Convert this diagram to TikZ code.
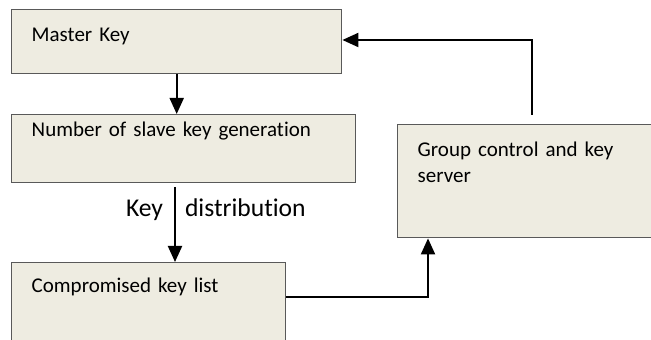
\documentclass[tikz,border=0pt]{standalone}
\usepackage{fontspec}
\setmainfont[Ligatures=NoCommon]{Carlito}
\usetikzlibrary{arrows.meta, positioning, calc}
\definecolor{boxfill}{RGB}{238,236,225}
\definecolor{boxline}{RGB}{89,89,89}

\begin{document}
\begin{tikzpicture}[
        x=0.5pt, y=-0.5pt,
        keybox/.style={rectangle, draw=boxline, line width=0.7pt, fill=boxfill, anchor=north west, inner xsep=10pt, inner ysep=0pt, align=left, font=\fontsize{10.5pt}{13pt}\selectfont},
        flow/.style={draw=black, line width=1pt, -{Triangle[width=7pt,length=8pt]}},
        flowlabel/.style={font=\fontsize{12.8pt}{15pt}\selectfont, inner sep=0pt}
    ]
        \useasboundingbox (0,0) rectangle (651,340);
        \clip (0,0) rectangle (651,340);

        \node[keybox, text width=145pt, text height=16pt, text depth=16pt] (master) at (11,9) {Master Key};
        \node[keybox, text width=152pt, text height=11pt, text depth=23pt] (slavegen) at (11,114) {Number of slave key generation};
        \node[keybox, text width=117pt, text height=15pt, text depth=50pt] (compromised) at (11,262) {Compromised key list};
        \node[keybox, text width=120pt, text height=16pt, text depth=40.5pt] (server) at (397,124) {Group control and key\\server};

        \coordinate (disttop) at (175,187);

        \draw[flow] (master.south) -- (master.south |- slavegen.north);
        \draw[flow] (disttop) -- (disttop |- compromised.north)
            node[flowlabel, pos=0.4, anchor=base east, xshift=-5.5pt] (keyword) {Key}
            node[flowlabel, pos=0.4, anchor=base west, xshift=4.5pt] (distword) {distribution};
        \draw[flow] ([yshift=-17.5pt]compromised.north east) -| ([xshift=15.5pt]server.south west);
        \draw[flow] ([xshift=67.5pt, yshift=4.5pt]server.north west) |- ([yshift=-15.5pt]master.north east);
    \end{tikzpicture}
\end{document}
